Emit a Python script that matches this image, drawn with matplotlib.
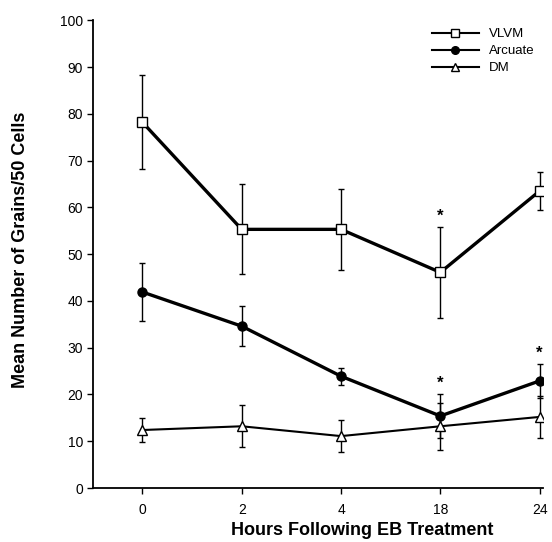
import numpy as np
import matplotlib.pyplot as plt
from matplotlib.lines import Line2D

plt.rcParams["font.family"] = ["Liberation Sans", "DejaVu Sans"]

# Daten
hours = ["0", "2", "4", "18", "24"]
vlvm = [78.2, 55.3, 55.3, 46.1, 63.5]
vlvm_err = [10.0, 9.6, 8.7, 9.7, 4.0]
arcuate = [41.9, 34.6, 23.9, 15.4, 22.9]
arcuate_err = [6.2, 4.3, 1.8, 4.7, 3.7]
dm = [12.4, 13.2, 11.1, 13.2, 15.2]
dm_err = [2.5, 4.5, 3.5, 5.0, 4.5]

# signifikante Punkte (Serie, Index)
stars = [("VLVM", 3), ("Arcuate", 3), ("Arcuate", 4)]

fig = plt.figure(figsize=(5.52, 5.42), dpi=100)
ax = fig.add_axes([0.168, 0.0996, 0.815, 0.863])

x = np.arange(len(hours))
series = {
    "VLVM": (vlvm, vlvm_err, "s", "white", 2.4),
    "Arcuate": (arcuate, arcuate_err, "o", "black", 2.4),
    "DM": (dm, dm_err, "^", "white", 1.5),
}

handles = []
for name, (vals, errs, mk, fc, lw) in series.items():
    ax.errorbar(x, vals, yerr=errs, color="black", lw=lw, marker=mk,
                markersize=6.5, markerfacecolor=fc, markeredgecolor="black",
                markeredgewidth=1.0, ecolor="black", elinewidth=1.0,
                capsize=2.5, capthick=1.0, zorder=3)
    handles.append(Line2D([], [], color="black", lw=1.5, marker=mk,
                          markersize=5.5, markerfacecolor=fc,
                          markeredgecolor="black", markeredgewidth=1.0,
                          label=name))

for name, i in stars:
    vals, errs = series[name][0], series[name][1]
    ax.annotate("*", (x[i], vals[i] + errs[i]), xytext=(0, 2),
                textcoords="offset points", ha="center", va="bottom",
                fontsize=12, fontweight="bold")

ax.set_xlim(-0.5, 4.03)
ax.set_ylim(0, 100)
ax.set_xticks(x)
ax.set_xticklabels(hours)
ax.set_yticks(np.arange(0, 101, 10))
ax.tick_params(labelsize=10, length=4, width=1, direction="out")
ax.tick_params(axis="x", pad=7)
ax.tick_params(axis="y", pad=3)
ax.spines["top"].set_visible(False)
ax.spines["right"].set_visible(False)
ax.spines["left"].set_linewidth(1.3)
ax.spines["bottom"].set_linewidth(1.3)

ax.set_xlabel("Hours Following EB Treatment", fontsize=13,
              fontweight="bold", va="center")
ax.xaxis.set_label_coords(0.6, -0.09)
ax.set_ylabel("Mean Number of Grains/50 Cells", fontsize=13,
              fontweight="bold", va="center")
ax.yaxis.set_label_coords(-0.16, 0.51)

ax.legend(handles=handles, loc="upper right", bbox_to_anchor=(1.0, 1.0),
          frameon=False, fontsize=9.5, handlelength=3.5, labelspacing=0.35,
          borderaxespad=0.2)

fig.savefig("out.png", dpi=100)
